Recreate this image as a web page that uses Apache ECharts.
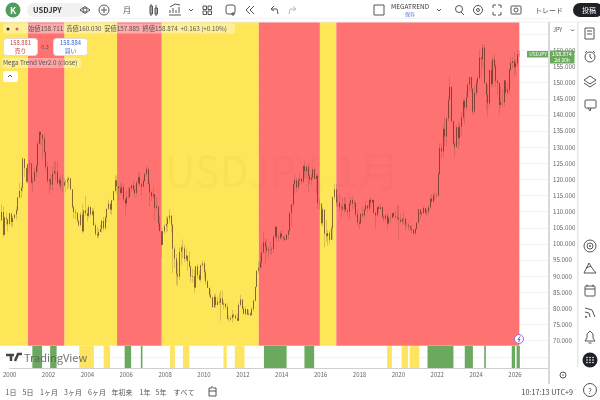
<!DOCTYPE html>
<html>
<head>
<meta charset="utf-8">
<style>
  html, body { margin: 0; padding: 0; background: #fff; }
  #chart { width: 600px; height: 400px; }
</style>
<script src="https://cdn.jsdelivr.net/npm/echarts@6/dist/echarts.min.js"></script>
</head>
<body>
<div id="chart"></div>
<script>
// monthly USDJPY, one row per year from 2000-01
const closes = [
  107.3,109.9,102.8,108.1,107.7,106.1,109.5,106.8,108.1,109.1,110.5,114.4,
  116.4,117.4,126.4,123.5,119.3,124.7,125.0,119.1,119.4,122.3,124.2,131.1,
  134.7,133.8,132.7,128.5,123.9,119.6,120.0,118.4,121.8,122.5,122.4,118.8,
  119.9,118.1,118.1,119.1,119.3,119.9,120.4,116.9,111.4,109.9,109.6,107.2,
  105.9,109.1,103.9,110.4,109.5,108.7,111.4,109.2,110.1,105.8,103.1,102.6,
  103.7,104.6,107.1,104.9,108.2,110.9,112.5,110.6,113.5,116.4,119.7,117.9,
  117.2,115.8,117.7,113.9,112.6,114.5,114.6,117.3,118.2,116.9,115.8,119.0,
  120.7,118.5,117.8,119.5,121.7,123.2,118.6,116.0,114.8,115.4,111.2,111.7,
  106.4,104.0,99.7,103.9,105.5,106.2,108.0,108.8,106.0,98.5,95.5,90.6,
  89.9,97.5,98.9,98.6,95.3,96.4,94.7,93.0,89.8,90.0,86.5,93.0,
  90.3,88.9,93.4,94.0,91.2,88.4,86.4,84.2,83.4,80.4,83.6,81.1,
  82.1,81.8,83.1,81.2,81.5,80.5,76.7,76.6,77.0,78.0,77.6,76.9,
  76.2,81.1,82.8,80.0,78.3,79.8,78.1,78.4,77.9,79.8,82.4,86.7,
  91.7,92.6,94.2,97.4,100.5,99.1,97.9,98.2,98.3,98.4,102.4,105.3,
  102.0,101.8,103.2,102.2,101.8,101.3,102.8,104.1,109.6,112.3,118.6,119.8,
  117.5,119.6,120.1,119.4,124.1,122.5,123.9,121.2,119.9,120.6,123.1,120.2,
  121.1,112.7,112.6,106.4,110.7,103.2,102.4,103.4,101.3,104.8,114.5,116.9,
  112.8,112.8,111.4,111.5,110.8,112.4,110.3,110.0,112.5,113.6,112.5,112.7,
  109.2,106.7,106.3,109.3,108.8,110.7,111.9,111.0,113.7,112.9,113.6,109.7,
  108.9,111.4,110.8,111.4,108.3,107.9,108.8,106.3,108.1,108.0,109.5,108.6,
  108.4,107.9,107.5,106.9,107.8,107.9,105.9,105.9,105.5,104.7,104.3,103.3,
  104.7,106.6,110.7,109.3,109.6,111.1,109.7,110.0,111.3,114.0,113.2,115.1,
  115.1,115.0,121.7,129.7,128.7,135.7,133.3,138.9,144.7,148.7,138.1,131.1,
  130.1,136.2,132.8,136.3,139.3,144.3,142.3,145.5,149.4,151.7,148.2,141.0,
  146.9,149.9,151.4,157.8,157.3,160.9,150.0,146.2,143.6,153.9,149.6,157.2,
  155.2,150.6,149.9,143.1,144.0,144.0,150.7,147.0,147.9,154.0,156.1,156.7,
  154.8,156.0,158.7,158.87
];
const highs = [
  108.0,112.2,111.5,108.6,109.7,107.2,109.6,108.7,108.8,109.1,111.5,114.6,
  119.0,118.1,126.8,126.5,123.7,125.0,126.0,121.5,120.5,123.6,124.5,131.8,
  135.2,135.0,134.0,133.9,128.8,125.5,120.3,121.5,124.3,125.7,125.7,125.5,
  120.5,121.2,121.4,120.6,119.9,120.6,120.9,119.6,116.9,111.9,110.8,109.8,
  107.2,109.9,112.2,110.5,114.9,111.0,112.0,111.5,111.1,111.0,106.4,105.1,
  104.7,105.9,107.5,108.4,108.7,111.0,113.7,112.4,113.7,116.4,121.4,121.0,
  117.7,119.0,118.7,118.7,113.6,116.5,117.7,117.7,118.4,119.8,118.2,119.6,
  122.2,122.2,119.0,120.1,122.0,124.1,123.7,119.8,116.4,117.7,115.2,114.7,
  109.7,108.6,103.6,105.1,106.2,108.6,108.6,110.7,108.6,106.0,99.2,96.9,
  94.6,98.9,99.7,101.4,99.7,98.5,95.7,97.7,93.3,92.3,92.0,93.2,
  93.7,91.7,93.6,94.8,94.7,92.0,88.9,86.4,85.9,83.7,84.5,84.5,
  83.6,84.5,85.5,85.5,82.2,81.5,81.5,77.8,77.8,79.5,78.4,78.3,
  78.3,81.9,84.2,82.6,80.6,80.6,79.7,79.6,78.9,80.4,82.8,86.7,
  91.7,94.5,96.7,99.9,103.7,101.5,101.5,99.1,100.6,99.0,102.6,105.4,
  105.4,103.0,103.9,104.1,102.4,102.7,103.1,104.2,110.1,112.4,118.9,121.8,
  120.5,120.5,122.0,120.8,124.4,125.9,124.5,125.0,121.7,121.5,123.8,123.7,
  121.7,121.7,114.0,112.0,111.4,110.3,107.5,104.3,104.1,105.5,114.8,118.7,
  118.6,114.9,115.5,112.2,114.4,114.5,114.5,111.0,113.3,114.5,114.7,113.7,
  113.4,110.5,107.9,109.5,111.4,111.0,113.2,111.8,113.7,114.5,114.0,113.7,
  110.0,111.5,112.1,112.4,111.7,108.8,109.3,109.3,108.5,109.3,109.7,109.7,
  110.3,112.2,111.7,109.4,108.1,109.9,107.8,107.0,106.5,105.7,105.7,104.7,
  104.9,106.7,110.9,110.0,110.2,111.7,111.0,110.8,112.1,114.7,115.5,115.5,
  116.3,115.8,122.4,131.3,131.3,137.0,139.4,139.1,145.9,151.9,148.8,138.2,
  131.6,136.9,137.9,137.5,140.9,145.1,144.9,147.4,149.7,151.7,151.9,148.0,
  148.8,150.9,151.9,160.2,157.7,161.9,162.0,149.4,149.4,153.9,156.7,158.1,
  158.9,155.9,151.2,150.0,148.7,148.0,150.9,148.5,149.9,154.4,157.9,157.9,
  159.4,157.0,160.0,160.03
];
const lows = [
  101.3,107.2,102.1,102.8,105.9,103.9,107.3,105.3,105.3,107.6,107.6,110.0,
  114.3,114.2,116.3,120.7,118.6,118.8,122.3,118.4,115.9,120.3,120.8,122.4,
  130.8,130.7,126.4,127.6,122.9,118.8,115.6,116.7,116.6,121.6,119.7,118.4,
  117.4,116.7,115.9,117.8,115.9,116.9,117.4,116.9,110.9,107.9,107.7,106.8,
  105.3,105.3,103.4,103.6,108.7,106.9,108.1,108.6,108.6,105.5,102.5,101.8,
  101.7,103.7,103.5,104.1,104.3,106.6,110.5,109.3,109.0,113.5,116.4,115.5,
  113.4,115.3,115.4,113.2,108.9,111.7,113.8,114.3,116.3,116.3,114.4,115.0,
  118.5,117.9,115.1,117.6,119.3,121.1,118.5,111.6,113.3,114.3,107.2,110.5,
  104.9,103.8,95.8,99.7,103.1,103.6,103.8,106.5,103.5,90.9,92.5,87.2,
  87.1,88.9,93.5,95.5,94.4,94.5,91.7,92.7,88.2,88.0,84.8,86.3,
  89.2,88.6,88.2,92.7,89.1,87.5,86.3,83.6,82.9,80.2,80.2,80.2,
  81.0,81.1,76.2,81.2,79.6,79.7,77.0,75.9,76.1,75.6,76.9,77.1,
  76.0,76.1,80.6,79.7,78.2,77.7,77.9,77.9,77.4,77.9,79.1,82.1,
  86.5,90.8,92.5,92.5,97.1,93.8,97.1,95.8,96.9,96.6,97.2,101.6,
  100.8,100.8,101.2,101.3,100.8,101.0,101.1,101.5,103.7,105.2,111.5,115.6,
  115.9,116.6,118.3,118.5,118.9,120.4,120.4,116.2,118.6,118.1,120.0,119.9,
  115.9,110.9,110.7,105.6,105.5,99.0,100.7,99.5,100.1,101.2,101.2,113.6,
  111.6,111.6,110.1,108.1,110.2,109.6,109.9,108.3,107.3,111.7,110.8,110.9,
  108.3,105.5,104.6,106.6,108.1,108.1,110.3,109.8,110.4,111.4,112.3,109.5,
  104.7,108.5,109.7,110.8,108.3,106.8,107.2,104.5,106.5,106.5,108.2,108.4,
  107.6,107.5,101.2,106.4,105.9,106.1,104.2,105.3,104.0,104.0,103.2,102.9,
  102.6,104.4,106.4,107.5,108.6,109.2,109.1,108.7,109.1,110.8,112.5,112.6,
  113.5,114.4,114.7,121.3,126.4,126.9,130.4,130.4,138.0,145.1,137.5,130.6,
  127.2,129.8,129.6,130.6,133.5,138.4,137.2,141.5,145.8,147.3,146.7,140.3,
  140.3,146.0,146.5,151.2,151.9,154.6,149.6,141.7,139.6,142.5,148.6,148.6,
  154.7,148.6,146.5,139.9,142.1,142.7,142.7,146.2,146.3,146.5,153.6,154.4,
  152.1,152.5,155.0,157.89
];
const firstOpen = 102.2;

// background zones from the indicator
const yellowZones = [['2000-01','2001-06'],['2003-04','2005-12'],['2008-03','2013-02'],['2016-03','2017-01']];
const redZones = [['2001-06','2003-04'],['2005-12','2008-03'],['2013-02','2016-03'],['2017-01','2026-04']];
// strip under the chart
const greenSpans = [['2001-03','2001-09'],['2002-02','2002-06'],['2005-12','2006-04'],['2006-10','2006-11'],
  ['2013-02','2014-04'],['2015-03','2015-09'],['2021-07','2022-11'],['2023-06','2023-11'],['2024-06','2024-07'],
  ['2025-11','2026-01'],['2026-02','2026-04']];
const paleSpans = [['2003-08','2004-05'],['2004-11','2005-03'],['2008-04','2008-07'],['2008-12','2009-04'],
  ['2011-01','2011-03'],['2011-08','2012-02'],['2019-06','2019-09'],['2020-03','2020-07'],['2020-08','2021-02']];

const periods = ['1日','5日','1ヶ月','3ヶ月','6ヶ月','年初来','1年','5年','すべて'];
const periodX = [11,28,49,73,97,122,145,161,184];

const YELLOW = '#fee658', RED = '#ff7272', GREEN = '#6ba95e', PALE = '#fde562';
const FONT = '"Noto Sans CJK JP", "Noto Sans", sans-serif';
const INK = '#555';

// category months, 2000-01 through 2027-10 (blank margin right of the last candle)
const months = [];
for (let i = 0; i < 334; i++) {
  const y = 2000 + Math.floor(i / 12), m = i % 12 + 1;
  months.push(y + '-' + (m < 10 ? '0' + m : m));
}
const candles = closes.map((c, i) => [i ? closes[i - 1] : firstOpen, c, lows[i], highs[i]]);
// same bars without their wicks, wicks get their own fainter layer
const bodies = candles.map(d => [d[0], d[1], Math.min(d[0], d[1]), Math.max(d[0], d[1])]);

const areaTop = 168.83, areaBottom = 68.39;
const zone = (span, color) => [
  { xAxis: span[0], yAxis: areaTop, itemStyle: { color: color, opacity: 1 } },
  { xAxis: span[1], yAxis: areaBottom }
];
const band = (span, color) => [
  { xAxis: span[0], yAxis: 0, itemStyle: { color: color, opacity: 1 } },
  { xAxis: span[1], yAxis: 1 }
];

// chrome helpers
const T = (text, x, y, size, fill, extra) => ({ type: 'text', z: 20, silent: true,
  style: Object.assign({ text: text, x: x, y: y, fontSize: size, fontFamily: FONT, fill: fill || INK,
    textVerticalAlign: 'middle' }, extra || {}) });
const R = (x, y, w, h, fill, stroke, r) => ({ type: 'rect', z: 20, silent: true,
  shape: { x: x, y: y, width: w, height: h, r: r || 0 },
  style: { fill: fill || 'none', stroke: stroke || 'none', lineWidth: 1 } });
const C = (cx, cy, r, fill, stroke) => ({ type: 'circle', z: 20, silent: true,
  shape: { cx: cx, cy: cy, r: r }, style: { fill: fill || 'none', stroke: stroke || 'none', lineWidth: 1 } });
const P = (pts, stroke, w) => ({ type: 'polyline', z: 20, silent: true,
  shape: { points: pts }, style: { fill: 'none', stroke: stroke || INK, lineWidth: w || 1 } });

const chrome = [
  // watermark
  T('USDJPY, 1月', 165, 171, 42, 'rgba(120,90,40,0.035)'),
  // top bar
  C(13, 10, 7.5, '#4f9d5b'), T('K', 13, 10.5, 9, '#fff', { textAlign: 'center', fontWeight: 'bold' }),
  R(27, 3, 58, 14, '#f1f1f1', null, 7), T('USDJPY', 33, 10, 7.5, '#333', { fontWeight: 'bold' }),
  C(85, 10, 2, null, INK), P([[80, 10], [85, 6.5], [90, 10], [85, 13.5], [80, 10]]),
  C(104, 10, 5, null, INK), P([[101, 10], [107, 10]]), P([[104, 7], [104, 13]]),
  T('月', 127, 10, 8, INK, { textAlign: 'center' }),
  R(150, 6, 2.5, 8, null, INK), R(155, 8, 2.5, 6, null, INK), P([[151, 4], [151, 16]]), P([[156, 5], [156, 16]]),
  P([[169, 15], [181, 15]]), P([[170, 13], [170, 10]]), P([[173, 13], [173, 8]]), P([[176, 13], [176, 10]]), P([[179, 13], [179, 7]]),
  P([[170, 7], [175, 4], [180, 5]]), P([[189, 9], [191, 11], [193, 9]]),
  R(203, 6, 3.5, 3.5, null, INK), R(208, 6, 3.5, 3.5, null, INK), R(203, 11, 3.5, 3.5, null, INK), R(208, 11, 3.5, 3.5, null, INK),
  R(226, 5, 9, 9, null, INK, 2), P([[233, 12], [233, 16]]), P([[231, 14], [235, 14]]),
  P([[250, 6], [246, 10], [250, 14]]), P([[254, 6], [250, 10], [254, 14]]),
  P([[271, 9], [274, 6]]), P([[271, 9], [274, 11]]), P([[271, 9], [277, 9], [278, 14]]),
  P([[296, 9], [293, 6]], '#bbb'), P([[296, 9], [293, 11]], '#bbb'), P([[296, 9], [290, 9], [289, 14]], '#bbb'),
  R(374, 5, 10, 10, null, INK),
  T('MEGATREND', 391, 7, 6.5, '#333'), T('保存', 410, 14, 5, '#4a6fd0', { textAlign: 'center' }),
  P([[437, 9], [439, 11], [441, 9]]),
  C(459, 9, 3.5, null, INK), P([[461, 12], [464, 15]]),
  C(478, 10, 4.5, null, INK), C(478, 10, 1.5, null, INK),
  P([[493, 8], [493, 5], [496, 5]]), P([[498, 5], [501, 5], [501, 8]]), P([[501, 12], [501, 15], [498, 15]]), P([[496, 15], [493, 15], [493, 12]]),
  R(511, 6, 10, 8, null, INK, 1), C(516, 10, 2, null, INK),
  T('トレード', 535, 10, 7, INK),
  R(573, 3, 30, 14, '#1e2126', null, 7), T('投稿', 589, 10, 7, '#fff', { textAlign: 'center' }),
  P([[0, 22], [600, 22]], '#eeeeee'),
  // legend over the chart
  R(3, 23.5, 232, 10, 'rgba(255,255,255,0.4)', null, 2),
  C(8, 29, 1.5, '#333'), C(17, 29, 1.5, '#c66'),
  T('始値158.711  高値160.030  安値157.885  終値158.874  +0.163 (+0.10%)', 28, 29, 6.3, '#555'),
  R(3.5, 38.5, 34, 17, '#fff', '#ddd', 3), T('158.881', 20.5, 43, 5.8, '#c44', { textAlign: 'center' }), T('売り', 20.5, 50.5, 5.8, '#c44', { textAlign: 'center' }),
  T('0.3', 45, 46.5, 5.5, '#555', { textAlign: 'center' }),
  R(53.5, 38.5, 34, 17, '#fff', '#ddd', 3), T('158.884', 70.5, 43, 5.8, '#3a64c8', { textAlign: 'center' }), T('買い', 70.5, 50.5, 5.8, '#3a64c8', { textAlign: 'center' }),
  R(2, 58, 79, 10, 'rgba(255,255,255,0.35)', null, 2),
  T('Mega Trend Ver2.0 (close)', 3, 63, 6.3, '#555'),
  R(3, 71, 15, 11, '#fff', null, 2), P([[8, 77], [10, 75], [12, 77]]),
  // watermark logo on the strip
  P([[6, 355], [14, 355]], '#444', 2.5), P([[11, 355], [11, 361]], '#444', 2.5), P([[15, 361], [18, 354], [22, 354]], '#444', 2.5),
  T('TradingView', 24, 357.5, 11, 'rgba(90,90,90,0.85)'),
  // lightning flag
  C(519, 339, 4.5, '#fff', '#a368d6'), P([[520, 336.5], [518, 339.5], [520, 339.5], [518.5, 342]], '#8a4fc4'),
  // price tag
  R(527, 51, 22, 6.5, GREEN), T('USDJPY', 538, 54.5, 4.8, '#fff', { textAlign: 'center' }),
  R(549, 50.5, 25.5, 13, GREEN), T('158.874', 562, 54, 5.5, '#fff', { textAlign: 'center' }), T('2d 20h', 562, 60, 5, '#fff', { textAlign: 'center' }),
  T('JPY', 553, 30, 5.5, INK), P([[571, 29.5], [572.5, 31], [574, 29.5]]),
  // separators
  R(548, 22, 2, 362, '#d9d9d9'), R(577, 22, 1.5, 345, '#e6e6e6'),
  // right rail
  R(585, 28, 9, 11, null, INK), P([[587, 31], [592, 31]]), P([[587, 34], [592, 34]]),
  C(590, 57, 5, null, INK), P([[590, 54], [590, 57], [592, 59]]), P([[585, 53], [587, 51]]), P([[595, 53], [593, 51]]),
  P([[590, 76], [596, 80], [590, 84], [584, 80], [590, 76]]), P([[584, 83], [590, 87], [596, 83]]),
  R(585, 100, 11, 8, null, INK, 1), P([[588, 108], [590, 111], [591, 108]]),
  C(590, 246, 6, null, INK), C(590, 246, 3, null, INK), C(590, 246, 1, INK),
  P([[584, 273], [589, 263], [592, 268], [596, 273], [584, 273]]), P([[586, 268], [591, 266]]),
  R(585, 286, 10, 10, null, INK, 1), P([[585, 289], [595, 289]]), P([[587, 284.5], [587, 287]]), P([[593, 284.5], [593, 287]]),
  C(586, 317, 1, INK), P([[585, 312], [589, 313], [590, 317]]), P([[585, 308], [592, 310], [595, 317]]),
  P([[585, 341], [595, 341], [593, 338], [593, 334], [590, 331], [587, 334], [587, 338], [585, 341]]), P([[588.5, 343], [591.5, 343]]),
  C(590, 360, 7.5, '#1e2126'),
  C(587, 357.5, .8, '#fff'), C(590, 357.5, .8, '#fff'), C(593, 357.5, .8, '#fff'), C(587, 360, .8, '#fff'), C(590, 360, .8, '#fff'),
  C(593, 360, .8, '#fff'), C(587, 362.5, .8, '#fff'), C(590, 362.5, .8, '#fff'), C(593, 362.5, .8, '#fff'),
  C(590, 390, 6.5, null, INK), T('?', 590, 390.5, 8, INK, { textAlign: 'center' }),
  // bottom bar
  P([[212, 386], [212, 388], [209, 388], [209, 396], [216, 396], [216, 388], [213, 388]]), P([[209, 391], [216, 391]]),
  C(563, 375, 3, null, INK), C(563, 375, .8, INK),
  T('10:17:13 UTC+9', 573, 392, 7.2, '#444', { textAlign: 'right' })
].concat(periods.map((p, i) => T(p, periodX[i], 392, 7, '#555', { textAlign: 'center' })));

const option = {
  animation: false,
  backgroundColor: '#fff',
  grid: [
    { left: 0, right: 51, top: 18.2, height: 338.6 },
    { left: 0, right: 51, top: 346, height: 22 }
  ],
  xAxis: [
    { type: 'category', data: months, boundaryGap: false, gridIndex: 0,
      axisLine: { show: false }, axisTick: { show: false }, axisLabel: { show: false }, splitLine: { show: false } },
    { type: 'category', data: months, boundaryGap: false, gridIndex: 1,
      axisLine: { lineStyle: { color: '#cfcfcf' } }, axisTick: { show: false },
      axisLabel: {
        interval: (i, v) => v.endsWith('-01') && +v.slice(0, 4) % 2 === 0,
        formatter: v => v.slice(0, 4), alignMinLabel: 'center',
        fontSize: 6, color: '#666', fontFamily: FONT, margin: 4, hideOverlap: false
      }, splitLine: { show: false } }
  ],
  yAxis: [
    { type: 'value', position: 'right', gridIndex: 0, min: 65, max: 170, interval: 5,
      axisLine: { show: false }, axisTick: { show: false },
      axisLabel: { fontSize: 6.2, color: '#666', fontFamily: FONT, margin: 4,
        formatter: v => (v < 70 || v > 160) ? '' : v.toFixed(3) },
      splitLine: { lineStyle: { color: '#f3f3f3' } } },
    { type: 'value', gridIndex: 1, min: 0, max: 1, show: false }
  ],
  series: [
    {
      type: 'candlestick', name: 'wicks', xAxisIndex: 0, yAxisIndex: 0, data: candles, barWidth: 1,
      itemStyle: { color: 'transparent', color0: 'transparent',
        borderColor: 'rgba(90,60,40,0.22)', borderColor0: 'rgba(90,60,40,0.22)', borderWidth: 1 },
      markArea: { silent: true, z: 1, data:
        yellowZones.map(s => zone(s, YELLOW)).concat(redZones.map(s => zone(s, RED))) }
    },
    {
      type: 'candlestick', name: 'USDJPY', xAxisIndex: 0, yAxisIndex: 0, data: bodies, barWidth: 0.9,
      itemStyle: { color: 'rgba(80,45,30,0.62)', color0: 'rgba(80,45,30,0.62)',
        borderColor: 'rgba(80,45,30,0.62)', borderColor0: 'rgba(80,45,30,0.62)', borderWidth: 1 }
    },
    {
      type: 'line', name: 'strip', xAxisIndex: 1, yAxisIndex: 1, data: [], showSymbol: false,
      markArea: { silent: true, data:
        greenSpans.map(s => band(s, GREEN)).concat(paleSpans.map(s => band(s, PALE))) }
    }
  ],
  graphic: chrome
};

const myChart = echarts.init(document.getElementById('chart'), null, { renderer: 'canvas' });
myChart.setOption(option);
</script>
</body>
</html>
